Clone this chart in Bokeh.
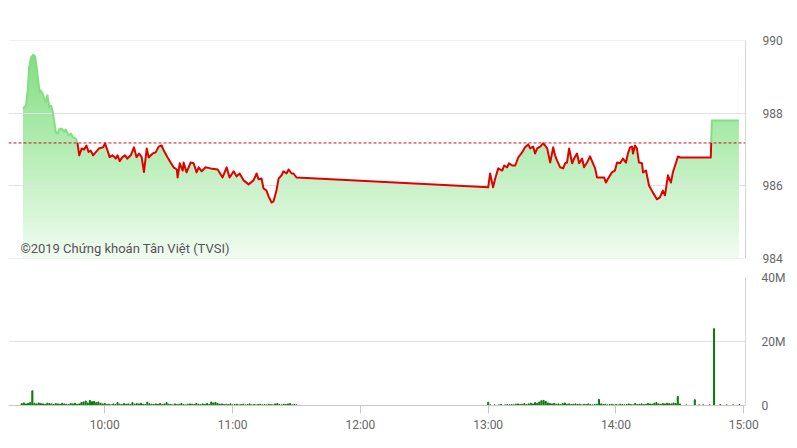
import numpy as np
from bokeh.plotting import figure
from bokeh.models import Range1d, FixedTicker, Label, Span
from bokeh.layouts import column
from bokeh.embed import file_html
from bokeh.resources import INLINE

# ---------------- data ----------------
# time in minutes after 09:00
minutes = [21.6, 23.0, 23.8, 24.5, 25.3, 26.4, 27.3, 28.0, 28.9, 29.5, 30.0, 30.8, 31.6, 32.3, 33.1,
           33.9, 34.7, 35.5, 36.2, 37.0, 37.8, 38.6, 39.8, 40.9, 41.7, 43.0, 44.1, 45.1, 46.4, 47.2,
           48.0, 49.2, 50.3, 51.4, 52.4, 53.4, 54.5, 55.8, 57.3, 59.2, 60.1, 61.3, 62.3, 63.6, 65.2,
           66.0, 67.0, 68.3, 69.5, 70.6, 72.2, 73.7, 74.9, 76.1, 77.3, 78.4, 79.7, 80.6, 82.5, 83.9,
           85.3, 86.7, 87.7, 89.5, 90.9, 92.3, 93.8, 94.2, 95.2, 96.6, 97.0, 98.4, 100.3, 101.7, 103.1,
           104.1, 105.5, 107.3, 109.7, 113.0, 115.3, 117.2, 118.6, 120.5, 121.9, 123.3, 125.2, 127.5, 129.8,
           131.3, 132.2, 133.6, 134.5, 135.9, 136.9, 138.3, 139.2, 140.6, 141.6, 143.0, 143.9, 145.3, 146.3,
           147.7, 148.6, 150.0,
           240.0, 240.9, 242.3, 243.3, 244.7, 246.6, 247.5, 248.9, 249.8, 251.3, 252.7, 254.1, 255.9, 257.3,
           258.8, 259.7, 261.1, 262.0, 263.0, 264.4, 265.8, 266.7, 267.7, 269.1, 270.5, 271.4, 272.3, 273.8,
           275.2, 276.1, 277.0, 278.0, 279.4, 280.3, 281.7, 282.7, 284.1, 285.0, 286.4, 287.8, 289.2, 290.2,
           291.1, 293.4, 294.4, 295.3, 296.3, 298.1, 299.5, 300.5, 301.9, 303.3, 304.7, 305.6, 306.6, 307.5,
           308.0, 308.9, 309.8, 310.8, 312.2, 312.7, 314.1, 315.5, 317.3, 319.2, 320.6, 322.0, 323.0, 324.4,
           325.8, 326.7, 328.1, 329.1, 330.0, 344.5, 345.0, 357.7]
price = [988.13, 988.21, 988.62, 989.27, 989.53, 989.61, 989.56, 989.27, 988.82, 988.58, 988.62, 988.54,
         988.40, 988.30, 988.49, 988.17, 988.21, 988.07, 987.80, 987.48, 987.44, 987.55, 987.58, 987.48,
         987.55, 987.39, 987.44, 987.34, 987.30, 987.17, 986.84, 987.03, 987.00, 987.11, 986.93, 986.97,
         986.84, 986.93, 987.03, 987.06, 987.17, 986.97, 986.79, 986.84, 986.75, 986.84, 986.68, 986.79,
         986.84, 986.75, 986.84, 987.06, 986.79, 986.89, 986.79, 986.38, 987.03, 986.78, 986.89, 986.92,
         987.08, 987.11, 986.97, 986.78, 986.64, 986.51, 986.45, 986.23, 986.62, 986.42, 986.64, 986.37,
         986.64, 986.62, 986.37, 986.51, 986.40, 986.51, 986.48, 986.45, 986.23, 986.51, 986.23, 986.40,
         986.26, 986.34, 986.15, 986.04, 986.15, 986.34, 986.18, 986.20, 985.93, 985.87, 985.71, 985.54,
         985.57, 985.87, 986.20, 986.29, 986.40, 986.34, 986.45, 986.34, 986.34, 986.23,
         985.96, 986.34, 985.96, 986.20, 986.48, 986.42, 986.56, 986.51, 986.62, 986.56, 986.56, 986.78,
         986.92, 987.06, 987.14, 987.03, 987.08, 986.89, 987.03, 987.08, 987.17, 987.11, 987.03, 986.64,
         987.06, 986.84, 986.70, 986.51, 986.48, 986.62, 986.64, 987.03, 986.62, 986.75, 986.89, 986.62,
         986.75, 986.51, 986.64, 986.81, 986.62, 986.48, 986.23, 986.23, 986.23, 986.09, 986.20, 986.37,
         986.42, 986.64, 986.62, 986.75, 986.64, 986.89, 987.06, 987.08, 986.89, 987.11, 987.03, 986.64,
         986.62, 986.37, 986.42, 986.01, 985.82, 985.63, 985.68, 985.87, 985.74, 986.29, 986.09, 986.37,
         986.62, 986.81, 986.78, 986.78, 987.80, 987.80]
reference = 987.18

vol_minutes_morning = list(range(21, 151))
vol_morning = [0.6, 0.8, 0.5, 0.7, 0.9, 4.6, 0.7, 0.5, 0.8, 0.6,
               0.5, 0.4, 0.7, 0.6, 0.5, 0.3, 0.6, 0.5, 0.4, 0.7,
               0.5, 0.4, 0.3, 0.6, 0.5, 0.7, 0.4, 0.5, 0.9, 1.1,
               1.4, 0.8, 1.6, 1.2, 1.3, 0.9, 1.1, 0.7, 0.5, 0.6,
               0.3, 0.4, 0.2, 0.5, 0.3, 0.9, 0.4, 0.3, 0.6, 0.4,
               0.5, 0.3, 0.9, 0.4, 0.6, 0.5, 0.7, 0.4, 0.3, 1.0,
               0.5, 0.4, 0.3, 0.5, 0.4, 0.6, 0.3, 0.5, 0.9, 0.4,
               0.3, 0.2, 0.5, 0.3, 0.4, 0.6, 0.3, 0.2, 0.4, 0.5,
               0.4, 0.3, 0.6, 0.4, 0.3, 0.5, 0.4, 0.6, 0.3, 1.1,
               0.8, 1.0, 0.6, 0.4, 0.5, 0.3, 0.4, 0.3, 0.5, 0.2,
               0.3, 0.4, 0.2, 0.3, 0.4, 0.2, 0.3, 0.5, 0.2, 0.3,
               0.2, 0.3, 0.4, 0.2, 0.3, 0.2, 0.4, 0.3, 0.2, 0.5,
               0.6, 0.3, 0.2, 0.4, 0.3, 0.5, 0.6, 0.2, 0.3, 0.2]
vol_minutes_afternoon = list(range(240, 346)) + [346, 349, 352, 355, 358]
vol_afternoon = [1.0, 0.2, 0.0, 0.2, 0.0, 0.2, 0.3, 0.0, 0.2, 0.3,
                 0.2, 0.3, 0.2, 0.4, 0.5, 0.3, 0.4, 0.6, 0.3, 0.5,
                 0.7, 0.5, 0.9, 0.7, 1.1, 1.5, 1.6, 1.3, 0.8, 0.6,
                 0.5, 0.7, 0.4, 0.5, 0.3, 0.6, 0.8, 0.4, 0.5, 0.3,
                 0.4, 0.5, 0.3, 0.4, 0.2, 0.4, 0.3, 0.5, 0.3, 0.2,
                 0.3, 0.4, 1.9, 0.5, 0.3, 0.4, 0.2, 0.3, 0.4, 0.2,
                 0.3, 0.2, 0.4, 0.3, 0.2, 0.3, 0.5, 0.3, 0.2, 0.6,
                 0.3, 0.4, 0.5, 0.3, 0.4, 0.6, 0.5, 0.4, 0.7, 0.9,
                 0.5, 0.4, 0.6, 0.5, 0.7, 0.6, 0.5, 0.8, 0.6, 2.8,
                 0.5, 0.0, 0.0, 0.2, 0.0, 0.0, 0.0, 1.8, 0.0, 0.2,
                 0.0, 0.2, 0.0, 0.0, 0.2, 0.0,
                 24.0, 0.3, 0.2, 0.2, 0.3]

price_ticks = [984, 986, 988, 990]
vol_ticks = [0, 20, 40]
vol_tick_labels = ["0", "20M", "40M"]
time_ticks = [60, 120, 180, 240, 300, 360]
time_tick_labels = ["10:00", "11:00", "12:00", "13:00", "14:00", "15:00"]
watermark = "©2019 Chứng khoán Tân Việt (TVSI)"

# ---------------- styles ----------------
FONT = "Roboto"
LABEL_COLOR = "#666666"
GRID_COLOR = "#e2e2e2"
BORDER_COLOR = "#d6d6d6"
X_START, X_END = 14.8, 360.8

# ---------------- price chart ----------------
p = figure(frame_width=737, frame_height=218, min_border_left=8, min_border_right=44,
           min_border_top=40, min_border_bottom=10,
           x_range=Range1d(X_START, X_END), y_range=Range1d(984, 990),
           x_axis_location=None, y_axis_location="right",
           output_backend="svg", toolbar_location=None)
p.outline_line_color = None
p.grid.visible = False
p.background_fill_color = "white"
p.border_fill_color = "white"

# gradient fill under the price line: gradient image + white mask above the line
ny = 256
frac = np.linspace(0.0, 1.0, ny)[:, None]
top = np.array([128, 224, 128])
bot = np.array([242, 252, 242])
cols = (bot + (top - bot) * frac).astype(np.uint8)
img = np.zeros((ny, 2), dtype=np.uint32)
view = img.view(dtype=np.uint8).reshape((ny, 2, 4))
view[:, :, 0] = cols[:, 0:1]
view[:, :, 1] = cols[:, 1:2]
view[:, :, 2] = cols[:, 2:3]
view[:, :, 3] = 255
pmax = max(price)
p.image_rgba(image=[img], x=minutes[0], y=984, dw=minutes[-1] - minutes[0], dh=pmax - 984)
p.varea(x=minutes, y1=price, y2=[990.5] * len(price), fill_color="white", fill_alpha=1.0)

# grid lines drawn over the fill
p.hspan(y=price_ticks, line_color=GRID_COLOR, line_width=1)

# split price line into above (green) / below (red) reference parts
pieces = []
for i in range(len(minutes) - 1):
    x0, y0, x1, y1 = minutes[i], price[i], minutes[i + 1], price[i + 1]
    a, b = y0 >= reference, y1 >= reference
    if a == b:
        pieces.append((a, [x0, x1], [y0, y1]))
    else:
        t = (reference - y0) / (y1 - y0)
        xc = x0 + t * (x1 - x0)
        pieces.append((a, [x0, xc], [y0, reference]))
        pieces.append((b, [xc, x1], [reference, y1]))
runs = []
for up, xs, ys in pieces:
    if runs and runs[-1][0] == up:
        runs[-1][1].append(xs[1])
        runs[-1][2].append(ys[1])
    else:
        runs.append([up, list(xs), list(ys)])
gx = [r[1] for r in runs if r[0]]
gy = [r[2] for r in runs if r[0]]
rx = [r[1] for r in runs if not r[0]]
ry = [r[2] for r in runs if not r[0]]
p.multi_line(xs=gx, ys=gy, line_color="#86dc86", line_width=2, line_join="round")
p.multi_line(xs=rx, ys=ry, line_color="#e10000", line_width=2, line_join="round")

p.add_layout(Span(location=reference, dimension="width", line_color="#c0191b",
                  line_width=1, line_dash="3 2"))

p.add_layout(Label(x=20.4, y=984.27, text=watermark, text_font=FONT, text_font_size="13px",
                   text_color="#555555", text_baseline="middle"))

ya = p.yaxis[0]
ya.ticker = FixedTicker(ticks=price_ticks)
ya.axis_line_color = BORDER_COLOR
ya.major_tick_line_color = None
ya.minor_tick_line_color = None
ya.major_tick_out = 0
ya.major_tick_in = 0
ya.major_label_standoff = 17
ya.major_label_text_font = FONT
ya.major_label_text_font_size = "12px"
ya.major_label_text_color = LABEL_COLOR

# ---------------- volume chart ----------------
v = figure(frame_width=737, frame_height=128, min_border_left=8, min_border_right=44,
           min_border_top=9, min_border_bottom=30,
           x_range=Range1d(X_START, X_END), y_range=Range1d(0, 40),
           y_axis_location="right", output_backend="svg", toolbar_location=None)
v.outline_line_color = None
v.xgrid.visible = False
v.ygrid.ticker = FixedTicker(ticks=vol_ticks)
v.ygrid.grid_line_color = GRID_COLOR
v.background_fill_color = "white"
v.border_fill_color = "white"

v.vbar(x=vol_minutes_morning, top=vol_morning, width=0.5, color="#0a7a0a")
v.vbar(x=vol_minutes_afternoon, top=vol_afternoon, width=0.5, color="#0a7a0a")

vy = v.yaxis[0]
vy.ticker = FixedTicker(ticks=vol_ticks)
vy.major_label_overrides = {t: s for t, s in zip(vol_ticks, vol_tick_labels)}
vy.axis_line_color = BORDER_COLOR
vy.major_tick_line_color = None
vy.minor_tick_line_color = None
vy.major_tick_out = 0
vy.major_tick_in = 0
vy.major_label_standoff = 16
vy.major_label_text_font = FONT
vy.major_label_text_font_size = "12px"
vy.major_label_text_color = LABEL_COLOR

vx = v.xaxis[0]
vx.ticker = FixedTicker(ticks=time_ticks)
vx.major_label_overrides = {t: s for t, s in zip(time_ticks, time_tick_labels)}
vx.axis_line_color = "#c8c8c8"
vx.major_tick_line_color = "#c8c8c8"
vx.minor_tick_line_color = None
vx.major_tick_out = 8
vx.major_tick_in = 0
vx.major_label_standoff = 4
vx.major_label_text_font = FONT
vx.major_label_text_font_size = "12px"
vx.major_label_text_color = LABEL_COLOR

layout = column(p, v, spacing=0)
open("out.html", "w").write(file_html(layout, INLINE))
